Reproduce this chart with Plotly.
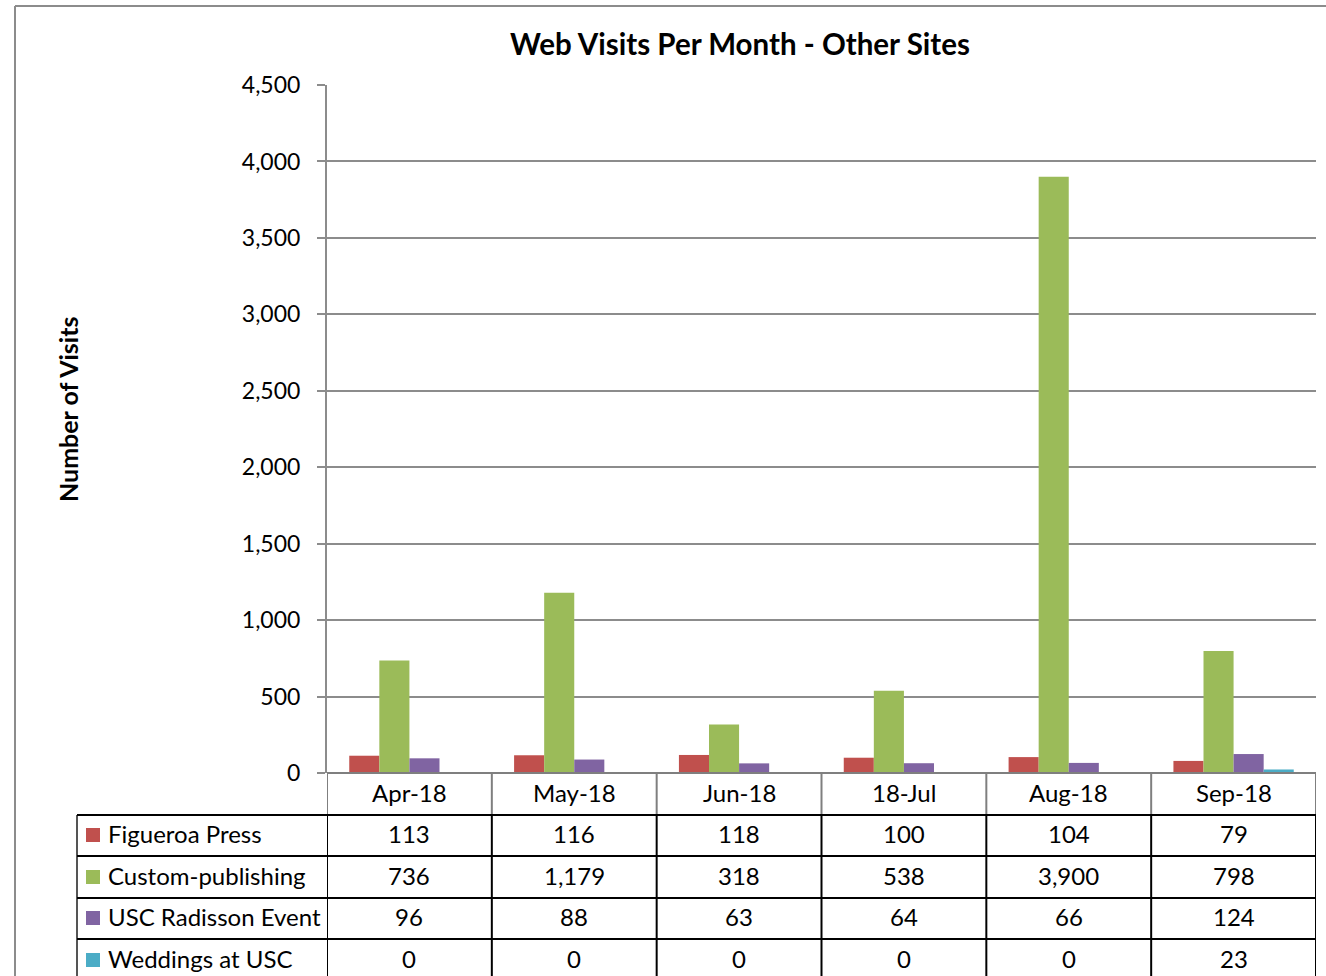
import plotly.graph_objects as go

months = ["Apr-18", "May-18", "Jun-18", "18-Jul", "Aug-18", "Sep-18"]
series_names = ["Figueroa Press", "Custom-publishing", "USC Radisson Event", "Weddings at USC"]
figueroa = [113, 116, 118, 100, 104, 79]
custom = [736, 1179, 318, 538, 3900, 798]
radisson = [96, 88, 63, 64, 66, 124]
weddings = [0, 0, 0, 0, 0, 23]
colors = ["#C0504D", "#9BBB59", "#8064A2", "#4BACC6"]
y_ticks = [0, 500, 1000, 1500, 2000, 2500, 3000, 3500, 4000, 4500]

values = [figueroa, custom, radisson, weddings]

W, H = 1326, 976
FONT = "Lato"


def px(x):
    return x / W


def py(y):
    return 1 - y / H


fig = go.Figure()
for name, vals, col in zip(series_names, values, colors):
    fig.add_trace(go.Bar(x=months, y=vals, name=name, marker=dict(color=col, line=dict(width=0))))

x0p, x1p = 327, 1316
y_top, y_axis = 85, 773

fig.update_layout(
    width=W, height=H,
    margin=dict(l=0, r=0, t=0, b=0, pad=0, autoexpand=False),
    paper_bgcolor="white", plot_bgcolor="white",
    barmode="group", bargap=0.27, bargroupgap=0,
    showlegend=False,
    font=dict(family=FONT, color="black"),
    xaxis=dict(domain=[px(x0p), px(x1p)], showticklabels=False, ticks="", automargin=False,
               showgrid=False, showline=False, zeroline=False, range=[-0.5, 5.5]),
    yaxis=dict(domain=[py(y_axis), py(y_top)], range=[0, 4500], tickvals=y_ticks, automargin=False,
               tickformat=",", showgrid=True, gridcolor="#8c8c8c", gridwidth=2,
               showline=True, linecolor="#8c8c8c", linewidth=2,
               ticks="outside", ticklen=8, tickcolor="#8c8c8c", tickwidth=2,
               ticklabelstandoff=12, zeroline=False,
               tickfont=dict(family=FONT, size=23, color="black")),
)

shapes = []
annotations = []

# Outer chart border
shapes.append(dict(type="line", xref="paper", yref="paper", x0=px(15), x1=px(1326), y0=py(6), y1=py(6),
                   line=dict(color="#8c8c8c", width=2)))
shapes.append(dict(type="line", xref="paper", yref="paper", x0=px(15), x1=px(15), y0=py(6), y1=py(980),
                   line=dict(color="#8c8c8c", width=2)))

# Table geometry
row_lines = [815, 856, 898, 939, 981]
col_edges = [-0.5, 0.5, 1.5, 2.5, 3.5, 4.5, 5.5]
left_edge = 77

shapes.append(dict(type="line", xref="x", yref="paper", x0=-0.5, x1=5.5, y0=py(y_axis), y1=py(y_axis),
                   line=dict(color="#7f7f7f", width=2)))
for ce in col_edges:
    shapes.append(dict(type="line", xref="x", yref="paper", x0=ce, x1=ce, y0=py(y_axis), y1=py(815),
                       line=dict(color="#7f7f7f", width=2)))
    shapes.append(dict(type="line", xref="x", yref="paper", x0=ce, x1=ce, y0=py(815), y1=py(981),
                       line=dict(color="black", width=2)))
shapes.append(dict(type="line", xref="paper", yref="paper", x0=px(left_edge), x1=px(left_edge),
                   y0=py(815), y1=py(981), line=dict(color="#555555", width=2)))
for rl in row_lines:
    shapes.append(dict(type="line", xref="paper", yref="paper", x0=px(left_edge), x1=px(x1p),
                       y0=py(rl), y1=py(rl), line=dict(color="black", width=2)))

TS = 24
for m in months:
    annotations.append(dict(x=m, y=py(792), xref="x", yref="paper", text=m, showarrow=False,
                            font=dict(family=FONT, size=TS, color="black"), xanchor="center", yanchor="middle"))

row_centers = [833, 875, 916, 958]
for name, vals, col, rc in zip(series_names, values, colors, row_centers):
    shapes.append(dict(type="rect", xref="paper", yref="paper", x0=px(86), x1=px(100),
                       y0=py(rc - 5), y1=py(rc + 9), fillcolor=col, line=dict(width=0)))
    annotations.append(dict(x=px(106), y=py(rc), xref="paper", yref="paper", text=name, showarrow=False,
                            font=dict(family=FONT, size=TS, color="black"), xanchor="left", yanchor="middle"))
    for m, v in zip(months, vals):
        annotations.append(dict(x=m, y=py(rc), xref="x", yref="paper", text=f"{v:,}", showarrow=False,
                                font=dict(family=FONT, size=TS, color="black"), xanchor="center", yanchor="middle"))

annotations.append(dict(x=px(740), y=py(43), xref="paper", yref="paper",
                        text="<b>Web Visits Per Month - Other Sites</b>", showarrow=False,
                        font=dict(family=FONT, size=29.5, color="black"), xanchor="center", yanchor="middle"))
annotations.append(dict(x=px(68), y=py(409), xref="paper", yref="paper",
                        text="<b>Number of Visits</b>", showarrow=False, textangle=-90,
                        font=dict(family=FONT, size=25, color="black"), xanchor="center", yanchor="middle"))

fig.update_layout(shapes=shapes, annotations=annotations)
fig.write_html("out.html", config={"displayModeBar": False},
               post_script="document.body.style.margin='0';document.body.style.overflow='hidden';")
